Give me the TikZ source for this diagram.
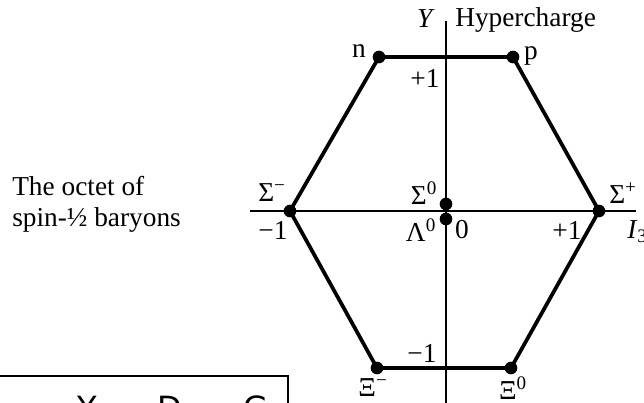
\documentclass[tikz,border=0pt]{standalone}
\usepackage{fontspec}
\setmainfont{Liberation Serif}
\newfontfamily\boxfont{DejaVu Sans}
\begin{document}
\begin{tikzpicture}[x=0.75pt,y=-0.75pt,
  lbl/.style={inner sep=0pt,font=\fontsize{20.5}{24}\selectfont},
  dot/.style={circle,fill=black,inner sep=0pt,minimum size=9.5pt},
  hexline/.style={line width=2.8pt},
  axisline/.style={line width=1.2pt},
  boxtext/.style={inner sep=0pt,anchor=base,font=\boxfont\fontsize{24}{28}\selectfont}]
\useasboundingbox (0,0) rectangle (644,403);
\clip (0,0) rectangle (644,403);
% axes
\coordinate (ytop) at (446,21);
\coordinate (ybot) at (446,410);
\coordinate (xl) at (250,211);
\coordinate (xr) at (636,211);
\draw[axisline] (ytop) -- (ybot);
\draw[axisline] (xl) -- (xr);
% particles
\node[dot] (n) at (379,57) {};
\node[dot] (p) at (513,57) {};
\node[dot] (sm) at (290,211) {};
\node[dot] (sp) at (599,211) {};
\node[dot] (xm) at (377,368) {};
\node[dot] (x0) at (511,368) {};
\node[dot] (s0) at (446,204) {};
\node[dot] (l0) at (446,219) {};
\draw[hexline,line join=round] (n.center) -- (p.center) -- (sp.center) -- (x0.center) -- (xm.center) -- (sm.center) -- cycle;
% labels
\node[lbl] (ylab) at (426,19) {\textit{Y}};
\node[lbl,anchor=west] (hyp) at (455,20) {Hypercharge};
\node[lbl] (nlab) at (359,51) {n};
\node[lbl] (plab) at (531,56) {p};
\node[lbl] (ptop) at (425,78) {+1};
\node[lbl] (sml) at (272,193) {Σ\textsuperscript{−}};
\node[lbl] (s0l) at (424,193) {Σ\textsuperscript{0}};
\node[lbl] (spl) at (623,193) {Σ\textsuperscript{+}};
\node[lbl] (mleft) at (273,230) {−1};
\node[lbl] (l0l) at (421,230) {Λ\textsuperscript{0}};
\node[lbl] (zero) at (462,230) {0};
\node[lbl] (pright) at (567,230) {+1};
\node[lbl,anchor=west] (i3) at (627,232) {\textit{I}\textsubscript{3}};
\node[lbl] (mbot) at (422,353) {−1};
\node[lbl] (xml) at (373,388) {Ξ\textsuperscript{−}};
\node[lbl] (x0l) at (513,388) {Ξ\textsuperscript{0}};
\node[lbl,anchor=west,align=left] (octet) at (12,204) {The octet of\\[-1pt]spin-½ baryons};
% bottom box
\draw[line width=1.5pt] (-5,376) -- (288,376) -- (288,410);
\node[boxtext] (b1) at (87,419) {Y};
\node[boxtext] (b2) at (170,419) {D};
\node[boxtext] (b3) at (256,419) {G};
\end{tikzpicture}
\end{document}
